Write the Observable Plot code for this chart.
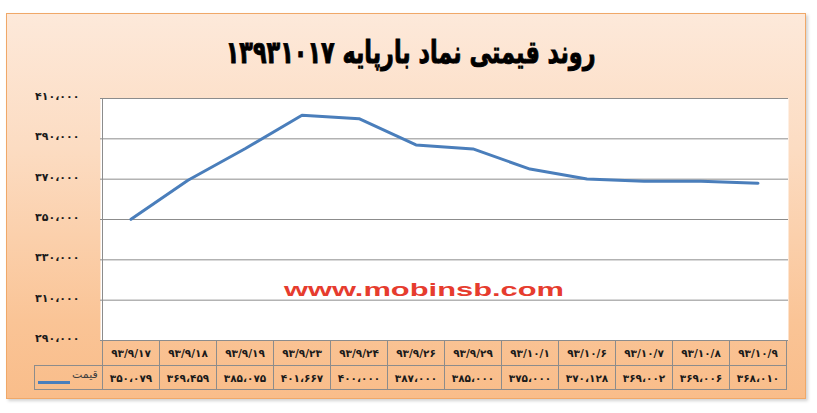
<!DOCTYPE html>
<html>
<head>
<meta charset="utf-8">
<script src="https://cdn.jsdelivr.net/npm/d3@7"></script>
<script src="https://cdn.jsdelivr.net/npm/@observablehq/plot@0.6"></script>
<style>
  html, body { margin: 0; padding: 0; background: #fff; }
  #wrap { position: relative; width: 817px; height: 413px; overflow: hidden; background: #fff; }
  #frame { position: absolute; left: 6px; top: 13px; width: 798px; height: 384px;
    border: 1px solid #f0a868; box-shadow: 2px 2px 3px rgba(0,0,0,0.18);
    background: linear-gradient(to bottom, #fde9da 0%, #fcdcc2 35%, #fac496 80%, #f9bd8a 100%); }
  #title { position: absolute; left: 0; top: 34px; width: 817px; text-align: center;
    font-family: "DejaVu Sans", sans-serif; font-weight: bold; font-size: 31px; color: #000; direction: rtl;
    transform: scaleX(0.72); transform-origin: 416px 0; -webkit-text-stroke: 0.9px #000; }
  #chart { position: absolute; left: 0; top: 0; }
  .cell { position: absolute; box-sizing: border-box; border: 1px solid #8c8c8c;
    font-family: "DejaVu Sans", sans-serif; font-weight: bold; font-size: 10.5px; color: #1a1a1a;
    display: flex; align-items: center; justify-content: center; }
  #wm { position: absolute; left: 0; top: 0; }
</style>
</head>
<body>
<div id="wrap">
  <div id="frame"></div>
  <div id="title"></div>
</div>
<script>
const titleText = "روند قیمتی نماد بارپایه ۱۳۹۳۱۰۱۷";
const seriesName = "قیمت";
const watermark = "www.mobinsb.com";
const dates = ["۹۳/۹/۱۷","۹۳/۹/۱۸","۹۳/۹/۱۹","۹۳/۹/۲۳","۹۳/۹/۲۴","۹۳/۹/۲۶","۹۳/۹/۲۹","۹۳/۱۰/۱","۹۳/۱۰/۶","۹۳/۱۰/۷","۹۳/۱۰/۸","۹۳/۱۰/۹"];
const prices = [350079, 369459, 385075, 401667, 400000, 387000, 385000, 375000, 370128, 369002, 369006, 368010];
const yTicks = [290000, 310000, 330000, 350000, 370000, 390000, 410000];

const faDigits = "۰۱۲۳۴۵۶۷۸۹";
const toFa = s => String(s).replace(/[0-9]/g, d => faDigits[+d]).replace(/,/g, "،");
const fmt = v => toFa(d3.format(",")(v));

const data = dates.map((d, i) => ({date: d, price: prices[i]}));

document.getElementById("title").textContent = titleText;

const W = 817, H = 413;
const plot = Plot.plot({
  width: W, height: H,
  marginTop: 98, marginBottom: 73, marginLeft: 100, marginRight: 29,
  style: {background: "transparent", fontFamily: "DejaVu Sans, sans-serif"},
  x: {type: "band", domain: dates, padding: 0, axis: null},
  y: {domain: [290000, 410000], ticks: yTicks, tickFormat: fmt, label: null},
  marks: [
    Plot.frame({fill: "white", stroke: null}),
    Plot.gridY(yTicks, {stroke: "#8c8c8c", strokeOpacity: 1, strokeWidth: 1}),
    Plot.axisY(yTicks, {tickSize: 0, tickPadding: 21, tickFormat: fmt, label: null, dy: -2,
      fontWeight: "bold", fontSize: 11, fill: "#1a1a1a"}),
    Plot.line(data, {x: "date", y: "price", stroke: "#4a7ebb", strokeWidth: 3, strokeLinejoin: "round"})
  ]
});
plot.id = "chart";
const wrap = document.getElementById("wrap");
wrap.appendChild(plot);

const xs = plot.scale("x");
const ys = plot.scale("y");
const bw = xs.bandwidth;
const x0 = xs.apply(dates[0]);
const yTop = ys.apply(410000);
const yBot = ys.apply(290000);
const rowH = 25;

const NS = "http://www.w3.org/2000/svg";
const overlay = document.createElementNS(NS, "svg");
overlay.setAttribute("width", W); overlay.setAttribute("height", H);
overlay.id = "wm";
const ln = document.createElementNS(NS, "line");
ln.setAttribute("x1", x0 + 0.5); ln.setAttribute("x2", x0 + 0.5);
ln.setAttribute("y1", yTop); ln.setAttribute("y2", yBot);
ln.setAttribute("stroke", "#8c8c8c");
overlay.appendChild(ln);
const wt = document.createElementNS(NS, "text");
wt.textContent = watermark;
wt.setAttribute("x", x0 + 182); wt.setAttribute("y", ys.apply(312000));
wt.setAttribute("textLength", 280); wt.setAttribute("lengthAdjust", "spacingAndGlyphs");
wt.setAttribute("fill", "#e63c2e");
wt.setAttribute("font-family", "Liberation Sans, Arial, sans-serif");
wt.setAttribute("font-weight", "bold");
wt.setAttribute("font-size", "19");
overlay.appendChild(wt);
wrap.appendChild(overlay);

function cell(left, top, w, h, text) {
  const c = document.createElement("div");
  c.className = "cell";
  c.style.left = left + "px"; c.style.top = top + "px";
  c.style.width = (w + 1) + "px"; c.style.height = (h + 1) + "px";
  if (text != null) c.textContent = text;
  wrap.appendChild(c);
  return c;
}
dates.forEach((d, i) => {
  cell(Math.round(xs.apply(d)), Math.round(yBot), Math.round(bw), rowH, d);
  cell(Math.round(xs.apply(d)), Math.round(yBot) + rowH, Math.round(bw), rowH - 1, fmt(prices[i]));
});
const leg = cell(34, Math.round(yBot) + rowH, Math.round(x0) - 34, rowH - 1, null);
leg.style.justifyContent = "flex-start";
const sw = document.createElement("div");
sw.style.cssText = "position:absolute;left:3px;top:15px;width:32px;height:3px;background:#4a7ebb;";
leg.appendChild(sw);
const lt = document.createElement("div");
lt.textContent = seriesName;
lt.style.cssText = "position:absolute;left:37px;top:2px;font-weight:normal;font-size:11px;color:#404040;direction:rtl;";
leg.appendChild(lt);
</script>
</body>
</html>
